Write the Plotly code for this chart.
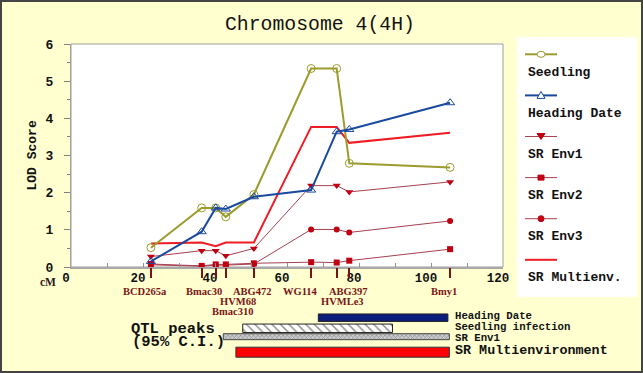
import plotly.graph_objects as go

# ---------------- data ----------------
marker_names = ["BCD265a", "Bmac30", "HVM68", "Bmac310", "ABG472",
                "WG114", "ABG397", "HVMLe3", "Bmy1"]
marker_cm = [22.2, 36.3, 40.2, 43.0, 50.8, 66.7, 73.8, 77.3, 105.3]

seedling = [0.52, 1.59, 1.59, 1.35, 1.95, 5.34, 5.34, 2.79, 2.68]
heading_date = [0.15, 0.95, 1.59, 1.56, 1.89, 2.07, 3.64, 3.70, 4.42]
sr_env1 = [0.28, 0.44, 0.44, 0.30, 0.50, 2.19, 2.19, 2.02, 2.29]
sr_env2 = [0.08, 0.03, 0.07, 0.07, 0.10, 0.13, 0.12, 0.17, 0.48]
sr_env3 = [0.06, 0.02, 0.05, 0.05, 0.08, 1.01, 1.01, 0.93, 1.24]
sr_multienv = [0.63, 0.66, 0.56, 0.66, 0.66, 3.77, 3.77, 3.34, 3.61]

qtl_traits = ["Heading Date", "Seedling infection", "SR Env1", "SR Multienvironment"]
qtl_start = [68.7, 47.7, 42.3, 45.8]
qtl_end = [104.7, 89.3, 105.1, 105.1]

x_tick_vals = [0, 20, 40, 60, 80, 100, 120]
y_tick_vals = [0, 1, 2, 3, 4, 5, 6]

# ---------------- layout helpers (pixel -> paper) ----------------
W, H = 643, 373
L, R, T, B = 71, 140, 44, 10
PW, PH = W - L - R, H - T - B


def px(x):
    return (x - L) / PW


def py(y):
    return (H - B - y) / PH


BG = "#FFFFD0"
MONO = "Liberation Mono"
SERIF = "Liberation Serif"
OLIVE = "#9C9B2D"
BLUE = "#1A4A9E"
RED = "#EE1C24"
ENVLINE = "#A84050"
ENVMK = "#C00010"
MAROON = "#7A1414"

fig = go.Figure()

# ---------------- LOD curves ----------------
fig.add_trace(go.Scatter(x=marker_cm, y=sr_env2, mode="lines+markers", name="SR Env2",
                         line=dict(color=ENVLINE, width=1),
                         marker=dict(symbol="square", size=6, color=ENVMK)))
fig.add_trace(go.Scatter(x=marker_cm, y=sr_env3, mode="lines+markers", name="SR Env3",
                         line=dict(color=ENVLINE, width=1),
                         marker=dict(symbol="circle", size=6, color=ENVMK)))
fig.add_trace(go.Scatter(x=marker_cm, y=sr_env1, mode="lines+markers", name="SR Env1",
                         line=dict(color=ENVLINE, width=1),
                         marker=dict(symbol="triangle-down", size=7, color=ENVMK)))
fig.add_trace(go.Scatter(x=marker_cm, y=sr_multienv, mode="lines", name="SR Multienv.",
                         line=dict(color=RED, width=2)))
fig.add_trace(go.Scatter(x=marker_cm, y=seedling, mode="lines+markers", name="Seedling",
                         line=dict(color=OLIVE, width=2),
                         marker=dict(symbol="circle-open", size=8, color=OLIVE)))
fig.add_trace(go.Scatter(x=marker_cm, y=heading_date, mode="lines+markers", name="Heading Date",
                         line=dict(color=BLUE, width=2),
                         marker=dict(symbol="triangle-up-open", size=8, color=BLUE)))

# dummy trace so marker-tick axis is drawn
fig.add_trace(go.Scatter(x=[None], y=[None], xaxis="x2", yaxis="y",
                         showlegend=False, hoverinfo="skip"))

# ---------------- QTL interval bars ----------------
lane_y = [42.3, 31.7, 23.3, 7.8]
lane_h = [7.5, 8.5, 6, 10]
bar_markers = [
    dict(color="#0B1E7C", line=dict(color="#222222", width=1)),
    dict(color="white", line=dict(color="#222222", width=1),
         pattern=dict(shape="\\", fgcolor="#222222", bgcolor="white", size=6, solidity=0.25)),
    dict(color="#BBBBBB", line=dict(color="#444444", width=1),
         pattern=dict(shape="x", fgcolor="#555555", bgcolor="#CCCCCC", size=3, solidity=0.4)),
    dict(color="#FF0000", line=dict(color="#333333", width=1)),
]
for i, trait in enumerate(qtl_traits):
    fig.add_trace(go.Bar(orientation="h", y=[lane_y[i]], x=[qtl_end[i] - qtl_start[i]],
                         base=[qtl_start[i]], width=[lane_h[i]], name=trait,
                         xaxis="x", yaxis="y2", marker=bar_markers[i], showlegend=False))

shapes = []
annotations = []

# whole-figure border
shapes.append(dict(type="rect", xref="paper", yref="paper",
                   x0=px(1), x1=px(642), y0=py(372), y1=py(1),
                   line=dict(color="#444444", width=2), layer="above"))
# white plot area with grey frame
shapes.append(dict(type="rect", xref="paper", yref="paper",
                   x0=0, x1=1, y0=py(267), y1=1, fillcolor="white",
                   line=dict(color="#A0A0A0", width=1), layer="below"))
# legend box
shapes.append(dict(type="rect", xref="paper", yref="paper",
                   x0=px(517), x1=px(637), y0=py(297), y1=py(37), fillcolor="white",
                   line=dict(width=0), layer="below"))

legend_items = [
    ("Seedling", OLIVE, 2, "circle-open", OLIVE),
    ("Heading Date", BLUE, 2, "triangle-up-open", BLUE),
    ("SR Env1", ENVLINE, 1, "triangle-down", ENVMK),
    ("SR Env2", ENVLINE, 1, "square", ENVMK),
    ("SR Env3", ENVLINE, 1, "circle", ENVMK),
    ("SR Multienv.", RED, 2, None, None),
]
for k, (lab, col, wid, sym, mcol) in enumerate(legend_items):
    ys = 54.3 + 41.1 * k
    shapes.append(dict(type="line", xref="paper", yref="paper",
                       x0=px(525), x1=px(557), y0=py(ys), y1=py(ys),
                       line=dict(color=col, width=wid)))
    cx = 541
    r = 3
    if sym == "circle-open":
        shapes.append(dict(type="circle", xref="paper", yref="paper",
                           x0=px(cx - r - 1), x1=px(cx + r + 1), y0=py(ys + r), y1=py(ys - r),
                           fillcolor="white", line=dict(color=mcol, width=1)))
    elif sym == "triangle-up-open":
        shapes.append(dict(type="path", xref="paper", yref="paper",
                           path=f"M {px(cx-4)},{py(ys+3)} L {px(cx+4)},{py(ys+3)} L {px(cx)},{py(ys-4)} Z",
                           fillcolor="white", line=dict(color=mcol, width=1)))
    elif sym == "triangle-down":
        shapes.append(dict(type="path", xref="paper", yref="paper",
                           path=f"M {px(cx-4)},{py(ys-3)} L {px(cx+4)},{py(ys-3)} L {px(cx)},{py(ys+3)} Z",
                           fillcolor=mcol, line=dict(color=mcol, width=1)))
    elif sym == "square":
        shapes.append(dict(type="rect", xref="paper", yref="paper",
                           x0=px(cx - 3), x1=px(cx + 3), y0=py(ys + 2.5), y1=py(ys - 2.5),
                           fillcolor=mcol, line=dict(color=mcol, width=1)))
    elif sym == "circle":
        shapes.append(dict(type="circle", xref="paper", yref="paper",
                           x0=px(cx - 3), x1=px(cx + 3), y0=py(ys + 3), y1=py(ys - 3),
                           fillcolor=mcol, line=dict(color=mcol, width=1)))
    annotations.append(dict(xref="paper", yref="paper", x=px(526), y=py(ys + 18),
                            text=lab, showarrow=False, xanchor="left", yanchor="middle",
                            font=dict(family=MONO, size=13, color="#111111", weight="bold")))

# title
annotations.append(dict(xref="paper", yref="paper", x=px(319.5), y=py(25), text="Chromosome 4(4H)",
                        showarrow=False, xanchor="center", yanchor="middle",
                        font=dict(family=MONO, size=19.8, color="#111111")))
# y title
annotations.append(dict(xref="paper", yref="paper", x=px(31.5), y=py(156), text="LOD Score",
                        showarrow=False, textangle=-90, xanchor="center", yanchor="middle",
                        font=dict(family=MONO, size=13, color="#111111", weight="bold")))
# cM
annotations.append(dict(xref="paper", yref="paper", x=px(47.5), y=py(281.5), text="cM",
                        showarrow=False, xanchor="center", yanchor="middle",
                        font=dict(family=SERIF, size=11.5, color="#2A1A1A", weight="bold")))

# marker names
label_row = [1, 1, 2, 3, 1, 1, 1, 2, 1]
label_shift = [-6, 2, 22, 7, -1.5, -11, 11.5, -7, -6]
row_y = {1: 291, 2: 301.3, 3: 311}
for name, cm, rw, sh in zip(marker_names, marker_cm, label_row, label_shift):
    annotations.append(dict(xref="x", yref="paper", x=cm, y=py(row_y[rw]), xshift=sh,
                            text=name, showarrow=False, xanchor="center", yanchor="middle",
                            font=dict(family=SERIF, size=10.5, color=MAROON, weight="bold")))

# QTL texts
qtl_label_y = [316, 327, 338, 350.7]
qtl_label_size = [10.7, 10.7, 10.7, 13.4]
for trait, yy, sz in zip(qtl_traits, qtl_label_y, qtl_label_size):
    annotations.append(dict(xref="paper", yref="paper", x=px(452.5), y=py(yy), text=trait,
                            showarrow=False, xanchor="left", yanchor="middle",
                            font=dict(family=MONO, size=sz, color="#111111", weight="bold")))
annotations.append(dict(xref="paper", yref="paper", x=px(129), y=py(329), text="QTL peaks",
                        showarrow=False, xanchor="left", yanchor="middle",
                        font=dict(family=MONO, size=15.5, color="#111111", weight="bold")))
annotations.append(dict(xref="paper", yref="paper", x=px(130), y=py(341.7), text="(95% C.I.)",
                        showarrow=False, xanchor="left", yanchor="middle",
                        font=dict(family=MONO, size=15.5, color="#111111", weight="bold")))

fig.update_layout(
    width=W, height=H,
    margin=dict(l=L, r=R, t=T, b=B, pad=0, autoexpand=False),
    paper_bgcolor=BG, plot_bgcolor=BG,
    showlegend=False, barmode="overlay",
    shapes=shapes, annotations=annotations,
    xaxis=dict(domain=[0, 1], range=[0, 120], anchor="y", automargin=False,
               tickvals=x_tick_vals, ticktext=[str(v) for v in x_tick_vals],
               ticks="inside", ticklen=4, tickcolor="#909090",
               minor=dict(dtick=10, ticks="inside", ticklen=4, tickcolor="#909090"),
               showline=True, linecolor="#A8A8A8", linewidth=2,
               showgrid=False, zeroline=False,
               ticklabelshift=-5, ticklabelstandoff=-2,
               tickfont=dict(family=MONO, size=12.5, color="#111111", weight="bold")),
    xaxis2=dict(overlaying="x", anchor="y", range=[0, 120], side="bottom", automargin=False,
                tickvals=marker_cm, ticks="outside", ticklen=10, tickwidth=2,
                tickcolor=MAROON, showticklabels=False, showline=False,
                showgrid=False, zeroline=False),
    yaxis=dict(domain=[py(267), 1], range=[0, 6], anchor="x", automargin=False,
               tickvals=y_tick_vals, ticks="outside", ticklen=6, tickcolor="#808080",
               minor=dict(dtick=0.5, ticks="outside", ticklen=3, tickcolor="#808080"),
               showline=True, linecolor="#A0A0A0", linewidth=1,
               showgrid=False, zeroline=False, ticklabelstandoff=8,
               tickfont=dict(family=MONO, size=13, color="#111111", weight="bold")),
    yaxis2=dict(domain=[py(360), py(310)], range=[0, 50], anchor="x", visible=False,
                automargin=False),
)

fig.write_html("out.html", config={"displayModeBar": False},
               post_script="document.body.style.margin='0px';document.body.style.padding='0px';")
